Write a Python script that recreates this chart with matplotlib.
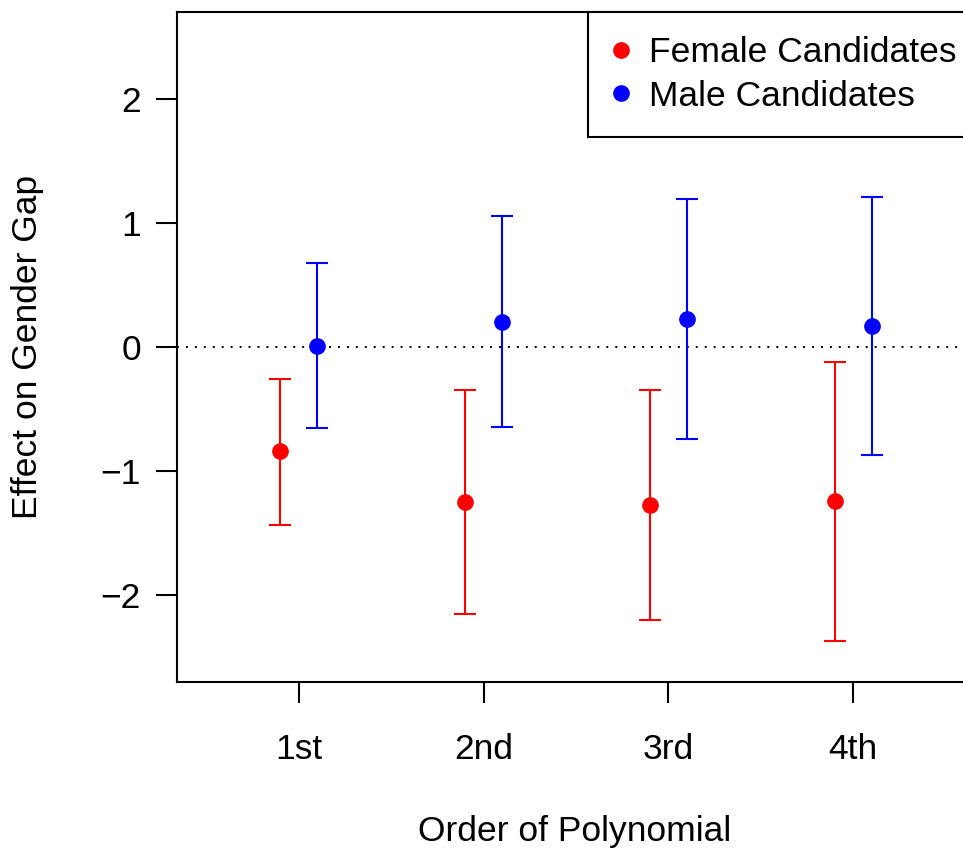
import matplotlib
matplotlib.use("Agg")
import matplotlib.pyplot as plt
import numpy as np

# Estimated effects and 95% confidence bounds by polynomial order
orders = ["1st", "2nd", "3rd", "4th"]
female_est = [-0.842, -1.248, -1.276, -1.244]
female_lo = [-1.434, -2.155, -2.204, -2.369]
female_hi = [-0.254, -0.344, -0.349, -0.119]
male_est = [0.010, 0.202, 0.223, 0.167]
male_lo = [-0.651, -0.648, -0.744, -0.873]
male_hi = [0.676, 1.056, 1.189, 1.212]
y_ticks = [-2, -1, 0, 1, 2]

plt.rcParams["font.family"] = ["Liberation Sans", "DejaVu Sans"]
FS = 25.5

W, H = 963, 850
fig = plt.figure(figsize=(W / 100, H / 100), dpi=100)
left, right, top, bottom = 177, 975, 12, 682
ax = fig.add_axes([left / W, 1 - bottom / H, (right - left) / W, (bottom - top) / H])

x = np.arange(1, len(orders) + 1)
off = 0.1
lw = 1.5
cap = 8.2


def draw(xpos, est, lo, hi, color, label):
    est = np.asarray(est)
    yerr = [est - np.asarray(lo), np.asarray(hi) - est]
    ax.errorbar(xpos, est, yerr=yerr, fmt="none", ecolor=color,
                elinewidth=lw, capsize=cap, capthick=lw, zorder=3)
    ax.plot(xpos, est, "o", color=color, markersize=11, zorder=4,
            label=label, linestyle="none")


ax.axhline(0, color="black", linestyle=(0, (1, 3.6)), linewidth=1.4, zorder=1)
draw(x - off, female_est, female_lo, female_hi, "#ff0000", "Female Candidates")
draw(x + off, male_est, male_lo, male_hi, "#0000ff", "Male Candidates")

ax.set_xlim(0.34, 4.66)
ax.set_ylim(-2.7, 2.7)
ax.set_xticks(x)
ax.set_xticklabels(orders)
ax.set_yticks(y_ticks)
ax.tick_params(axis="both", direction="out", length=15, width=1.5,
               labelsize=FS, color="black")
ax.tick_params(axis="x", pad=22)
ax.tick_params(axis="y", pad=11)
for s in ax.spines.values():
    s.set_linewidth(1.5)

# axis titles placed in figure pixels
fig.text(575 / W, 1 - 831 / H, "Order of Polynomial", fontsize=FS,
         ha="center", va="center")
fig.text(28 / W, 1 - 347 / H, "Effect on Gender Gap", fontsize=FS,
         ha="center", va="center", rotation=90)

leg = ax.legend(loc="upper right", bbox_to_anchor=(1.007, 1.0), fontsize=FS,
                frameon=True, fancybox=False, edgecolor="black",
                borderaxespad=0, borderpad=0.68, handlelength=0.5,
                handletextpad=0.55, labelspacing=0.3, markerscale=1.0)
leg.get_frame().set_linewidth(1.5)
leg.get_frame().set_alpha(1)

fig.savefig("out.png", dpi=100)
